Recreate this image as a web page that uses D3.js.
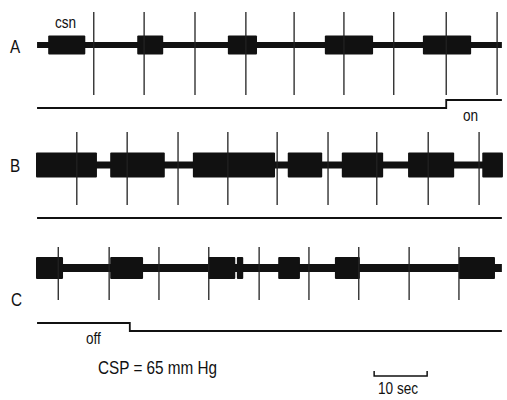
<!DOCTYPE html>
<html>
<head>
<meta charset="utf-8">
<script src="https://cdn.jsdelivr.net/npm/d3@7"></script>
<style>
  body { margin: 0; background: #fff; }
  svg text { font-family: "Liberation Sans", Arial, sans-serif; fill: #111; }
</style>
</head>
<body>
<div class="chart"></div>
<script>
// time in seconds along each recording
const burstsA = [[2.3, 9.3], [19.1, 24.0], [36.2, 41.7], [54.5, 63.6], [73.0, 82.1]];
const spikesA = [10.9, 20.4, 30.0, 39.6, 48.7, 58.1, 67.5, 77.4, 87.0];
const burstsB = [[0, 11.5], [14.0, 24.3], [29.6, 45.1], [47.5, 54.0], [57.7, 65.5], [70.2, 78.9], [84.2, 88.1]];
const spikesB = [7.7, 17.2, 26.8, 36.2, 45.5, 55.1, 64.3, 74.0, 83.6];
const burstsC = [[0, 5.1], [14.0, 20.2], [32.5, 37.6], [37.9, 39.1], [45.7, 49.8], [56.4, 61.1], [79.8, 86.6]];
const spikesC = [4.2, 13.8, 23.2, 32.6, 42.1, 51.5, 60.9, 70.4, 79.8];
const stepA = 77.4;   // stimulus "on"
const stepC = 17.7;   // stimulus "off"
const scaleBarSec = 10;
const traceSpan = [0.2, 87.9];

let canvas = {
  svg: {},
  x: {},
  config: { svgW: 507, svgH: 400 },
  rows: [
    { name: 'A', base: 45, burst: 9.5, thin: 3, up: 33, down: 50, bursts: burstsA, spikes: spikesA, lx: 10, ly: 53 },
    { name: 'B', base: 165, burst: 12.5, thin: 3.5, up: 33, down: 40, bursts: burstsB, spikes: spikesB, lx: 10, ly: 172 },
    { name: 'C', base: 268, burst: 11, thin: 4, up: 21, down: 32, bursts: burstsC, spikes: spikesC, lx: 11, ly: 306 }
  ],
  init: function () {
    this.svg = d3.select('.chart').append('svg')
      .attr('width', this.config.svgW)
      .attr('height', this.config.svgH);
    // 53 px per 10 sec
    this.x = d3.scaleLinear().domain([0, 88]).range([36, 502.4]);
    this.rows.forEach(r => this.drawRow(r));
    this.drawSteps();
    this.drawText();
  },
  drawRow: function (r) {
    let x = this.x;
    let g = this.svg.append('g').attr('class', 'row');
    // baseline activity
    g.append('rect')
      .attr('x', x(traceSpan[0])).attr('width', x(traceSpan[1]) - x(traceSpan[0]))
      .attr('y', r.base - r.thin).attr('height', r.thin * 2)
      .attr('fill', '#111');
    // bursts
    g.selectAll('rect.burst').data(r.bursts).enter().append('rect')
      .attr('class', 'burst')
      .attr('x', d => x(d[0])).attr('width', d => x(d[1]) - x(d[0]))
      .attr('y', r.base - r.burst).attr('height', r.burst * 2)
      .attr('rx', 1)
      .attr('fill', '#111');
    // marker spikes
    g.selectAll('line.spike').data(r.spikes).enter().append('line')
      .attr('class', 'spike')
      .attr('x1', d => x(d)).attr('x2', d => x(d))
      .attr('y1', r.base - r.up).attr('y2', r.base + r.down)
      .attr('stroke', '#222').attr('stroke-width', 1.3);
    g.append('text')
      .attr('transform', `translate(${r.lx},${r.ly}) scale(0.85,1)`)
      .style('font-size', '18px')
      .text(r.name);
  },
  drawSteps: function () {
    let x = this.x;
    let line = d3.line().x(d => x(d[0])).y(d => d[1]);
    this.svg.append('path')
      .attr('d', line([[traceSpan[0], 108], [stepA, 108], [stepA, 100], [traceSpan[1], 100]]))
      .attr('fill', 'none').attr('stroke', '#111').attr('stroke-width', 1.8);
    this.svg.append('path')
      .attr('d', line([[traceSpan[0], 218], [traceSpan[1], 218]]))
      .attr('fill', 'none').attr('stroke', '#111').attr('stroke-width', 1.8);
    this.svg.append('path')
      .attr('d', line([[traceSpan[0], 323], [stepC, 323], [stepC, 331], [traceSpan[1], 331]]))
      .attr('fill', 'none').attr('stroke', '#111').attr('stroke-width', 1.8);
    // 10 sec scale bar
    let s0 = 63.8;
    this.svg.append('path')
      .attr('d', line([[s0, 371], [s0, 376], [s0 + scaleBarSec, 376], [s0 + scaleBarSec, 371]]))
      .attr('fill', 'none').attr('stroke', '#111').attr('stroke-width', 1.5);
  },
  drawText: function () {
    let t = [
      { s: 'csn', x: 55, y: 28, f: 16 },
      { s: 'on', x: 463, y: 121, f: 16 },
      { s: 'off', x: 86, y: 344, f: 16 },
      { s: 'CSP = 65 mm Hg', x: 98, y: 374, f: 18 },
      { s: '10 sec', x: 378, y: 394, f: 16 }
    ];
    this.svg.selectAll('text.lab').data(t).enter().append('text')
      .attr('class', 'lab')
      .attr('transform', d => `translate(${d.x},${d.y}) scale(0.85,1)`)
      .style('font-size', d => d.f + 'px')
      .text(d => d.s);
  }
};

canvas.init();
</script>
</body>
</html>
